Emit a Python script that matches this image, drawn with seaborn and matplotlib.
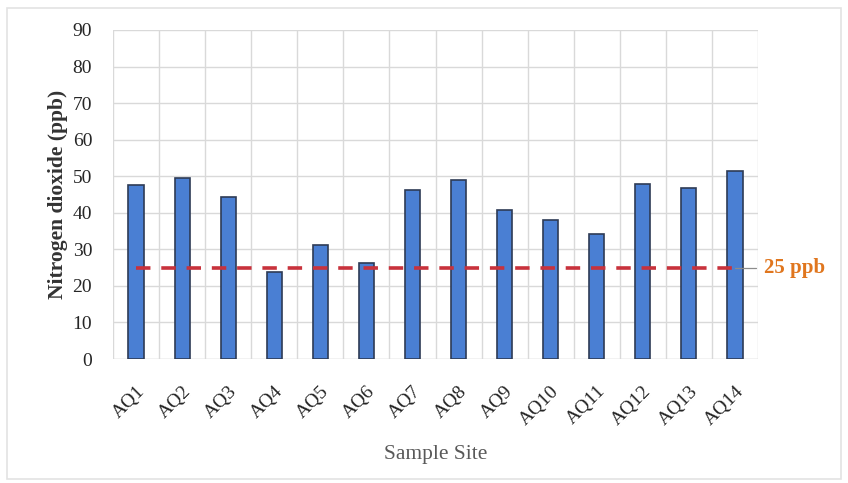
import matplotlib
matplotlib.use("Agg")
import matplotlib.pyplot as plt
import seaborn as sns
import pandas as pd
from matplotlib.patches import Rectangle

# NO2 concentrations per monitoring site
sites = ["AQ1", "AQ2", "AQ3", "AQ4", "AQ5", "AQ6", "AQ7",
         "AQ8", "AQ9", "AQ10", "AQ11", "AQ12", "AQ13", "AQ14"]
no2_ppb = [47.5, 49.6, 44.2, 23.8, 31.2, 26.2, 46.2,
           48.9, 40.7, 38.0, 34.3, 48.0, 46.9, 51.4]
guideline_ppb = 25
guideline_label = "25 ppb"
y_ticks = [0, 10, 20, 30, 40, 50, 60, 70, 80, 90]

df = pd.DataFrame({"site": sites, "no2": no2_ppb})

sns.set_theme(style="white")
plt.rcParams["font.family"] = ["Liberation Serif", "DejaVu Serif"]

W, H = 848, 483
fig = plt.figure(figsize=(W / 100, H / 100), dpi=100)
fig.patch.set_facecolor("white")
ax = fig.add_axes([113 / W, (H - 359) / H, (758 - 113) / W, (359 - 30) / H])

grid_c = "#D9D9D9"
sns.barplot(data=df, x="site", y="no2", ax=ax, color="#4A7FD3",
            width=0.33, edgecolor="#2E3B55", linewidth=1.2, saturation=1,
            zorder=3)

# horizontal and category-boundary grid
for v in y_ticks:
    ax.axhline(v, color=grid_c if v else "#BFBFBF", lw=1.0, zorder=1)
for i in range(len(sites) + 1):
    ax.axvline(i - 0.5, color=grid_c, lw=1.0, zorder=1)

# guideline
ax.plot([0, len(sites) - 1], [guideline_ppb, guideline_ppb],
        color="#C8323C", lw=2.6, dashes=(4.0, 3.0), zorder=4,
        solid_capstyle="butt", dash_capstyle="butt")
ax.plot([len(sites) - 1, len(sites) - 0.55], [guideline_ppb, guideline_ppb],
        color="#8C8C8C", lw=0.9, zorder=4, clip_on=False)
ax.text(len(sites) - 0.38, guideline_ppb, guideline_label, color="#E0761E",
        fontsize=15, fontweight="bold", va="center", ha="left")

ax.set_xlim(-0.5, len(sites) - 0.5)
ax.set_ylim(0, 90)
ax.set_yticks(y_ticks)
ax.set_yticklabels([str(v) for v in y_ticks])
for s in ax.spines.values():
    s.set_visible(False)

ax.tick_params(axis="y", length=7, color=grid_c, width=1.0, pad=8,
               labelsize=14, labelcolor="#262626")
ax.tick_params(axis="x", length=0, pad=17, labelsize=14, labelcolor="#262626")
plt.setp(ax.get_xticklabels(), rotation=45, ha="right",
         rotation_mode="anchor")

ax.set_xlabel("Sample Site", fontsize=15.5, color="#595959", labelpad=12)
ax.set_ylabel("Nitrogen dioxide (ppb)", fontsize=15.5, fontweight="bold",
              color="#333333", labelpad=3)

# faint outer frame
fig.patches.append(Rectangle((7 / W, 4 / H), (W - 14) / W, (H - 12) / H,
                             transform=fig.transFigure, fill=False,
                             edgecolor="#E3E3E3", lw=1.2))

fig.savefig("out.png", dpi=100, facecolor="white")
